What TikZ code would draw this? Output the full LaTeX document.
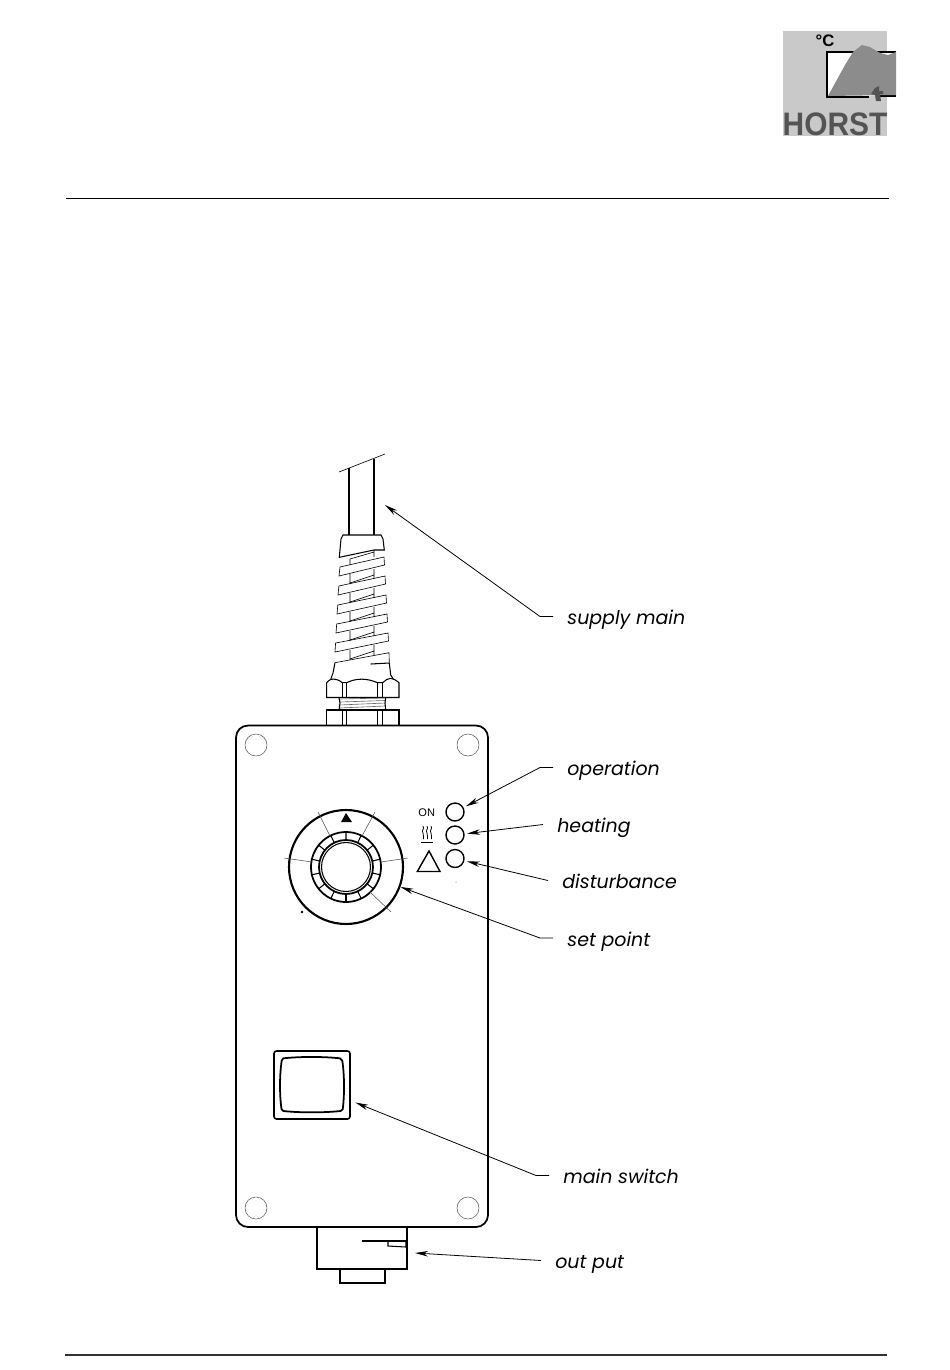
\documentclass[tikz,border=0pt]{standalone}
\usepackage{fontspec}
\setmainfont{Poppins}
\newfontfamily\logofont{Liberation Sans}
\usetikzlibrary{arrows.meta,calc}
\definecolor{logolight}{gray}{0.79}
\definecolor{logomid}{gray}{0.55}
\definecolor{logodark}{gray}{0.33}
\tikzset{
  partline/.style={black,line width=.6pt},
  thinline/.style={black,line width=.35pt},
  tickline/.style={black!70,line width=.3pt},
  heavyline/.style={black,line width=1pt},
  threadline/.style={black!60,line width=.35pt},
  calllabel/.style={anchor=west,inner xsep=.28cm,inner ysep=0pt,font=\fontsize{10.8}{12}\selectfont\itshape,text height=.33cm,text depth=0cm},
  leader/.style={black,line width=.45pt,-{Stealth[length=2.6mm,width=1.1mm]}},
  ledlamp/.style={circle,draw,line width=.8pt,inner sep=0pt,minimum size=.36cm},
  screwhole/.style={circle,draw=black!65,line width=.3pt,inner sep=0pt,minimum size=.44cm}
}
\begin{document}
\begin{tikzpicture}[x=.02cm,y=-.02cm]
\useasboundingbox (0,0) rectangle (950,1370);
% rules
\draw[black,line width=.5pt] (66,198) -- (889,198);
\draw[black!80,line width=.8pt] (65,1355) -- (887,1355);
% logo
\fill[logolight] (783,31) rectangle (887,136);
\fill[white] (827,52) rectangle (896,96);
\draw[black,line width=1.2pt] (896,52) -- (827,52) -- (827,97) -- (869,97);
\draw[black,line width=1.2pt] (878,96) -- (896,96);
\fill[logomid] (828,96) -- (845,65) -- (853,52) -- (862,45) -- (870,47) -- (880,53) -- (888,55) -- (896,52) -- (896,95) -- cycle;
\fill[logodark] (875,88) -- (879,86) -- (879,91) -- (883,91) -- (883,94) -- (880,94) -- (881,101) -- (876,101) -- (875,95) -- (871,94) -- cycle;
\node[font=\logofont\bfseries\fontsize{9.5}{9}\selectfont,inner sep=0pt] (logodeg) at (825,41) {°C};
\node[font=\logofont\bfseries\fontsize{18.5}{18}\selectfont,text=logodark,inner sep=0pt,xscale=.92] (logoname) at (835,124) {HORST};
% cable
\draw[thinline] (339,472) -- (385,454);
\draw[partline] (349,468) -- (349,535);
\draw[partline] (374,459) -- (374,535);
% gland
\draw[partline] (339.3,557.3) -- (341,539) -- (343,535) -- (381,535) -- (383,539) -- (384.3,550) -- (374,550) -- cycle;
\draw[thinline] (350,559) -- (350,565) (374,550) -- (374,557) (350,559) -- (374,552);
\foreach \i in {0,...,4}
  \draw[thinline] (340-\i*1.1,567+\i*19) -- (384+\i,557+\i*19) -- (384.5+\i,565+\i*19) -- (339-\i,576+\i*19) -- cycle
    (350,574+\i*19) -- (350,584+\i*19) (374,569+\i*19) -- (374,579+\i*19)
    (350,583+\i*19) -- (374,575+\i*19);
\draw[thinline] (335,662.7) -- (389,652.7) -- (389.3,662);
\draw[partline] (370.7,664) -- (389.3,663) -- (390.7,675) -- (393.3,679);
\draw[partline] (335,662.7) -- (333,673) -- (330.7,679.3);
% nuts
\draw[partline] (326.7,697.5) -- (326.7,682.7) .. controls (329,680) and (331,679) .. (333,679) .. controls (336,679) and (339,680) .. (342.3,682.7) -- (346.7,682.7) .. controls (356,678) and (367,678) .. (377.3,682.7) -- (382.7,682.7) .. controls (385,680) and (388,678.5) .. (390.7,678.3) .. controls (393,678.5) and (396,680) .. (399,682.7) -- (399,697.5) -- cycle;
\foreach \x in {342.3,346.7,377.3,382.3}
  \draw[partline] (\x,682.7) -- (\x,697.5) (\x,710) -- (\x,726);
\draw[partline] (326.7,726) -- (326.7,710) -- (399,710) -- (399,726);
\draw[threadline] (339,699) -- (385.7,698) (339.5,702) -- (385,700.5) (339,705) -- (385.7,703) (339.5,708) -- (385,706);
\draw[partline] (339,697.5) -- (340,703) -- (339,710) (385.7,697.5) -- (385,703) -- (385.7,710);
% housing
\draw[heavyline,rounded corners=.24cm] (236,725.5) rectangle (488,1227);
\node[screwhole] (holea) at (256,745) {};
\node[screwhole] (holeb) at (468,745) {};
\node[screwhole] (holec) at (256,1208) {};
\node[screwhole] (holed) at (468,1208) {};
% dial
\node[circle,draw,line width=1.2pt,inner sep=0pt,minimum size=2.28cm] (dial) at (346,867) {};
\draw[heavyline] (dial.center) circle (35);
\draw[heavyline] (dial.center) circle (27);
\draw[partline] (dial.center) circle (24.5);
\foreach \a in {0,...,13}
  \draw[partline] ($(dial.center)+(90+\a*25.71:27)$) -- ($(dial.center)+(90+\a*25.71:35)$);
\draw[tickline] (318,812) -- (330,836);
\draw[tickline] (375,812) -- (362,836);
\draw[tickline] (284,858) -- (312,862);
\draw[tickline] (408,858) -- (381,862);
\draw[tickline] (391,912) -- (370,892);
\fill[black] (346,813) -- (352,822) -- (341,822) -- cycle;
\fill[black] (302,912) circle (1.3);
% indicators
\node[ledlamp] (ledon) at (455,812) {};
\node[ledlamp] (ledheat) at (455,835) {};
\node[ledlamp] (ledfault) at (455,858.5) {};
\node[font=\logofont\fontsize{6.3}{6}\selectfont,inner sep=0pt] (ontext) at (426.7,812.3) {ON};
\foreach \x in {423,427,431}
  \draw[partline,line width=.45pt] (\x,826) .. controls (\x+2,829) and (\x-2,830) .. (\x,833) .. controls (\x+2,835) and (\x-1,837) .. (\x+.5,839);
\draw[partline,line width=.45pt] (421,842) -- (433,842);
\draw[line width=.8pt,line join=miter] (417.3,871.5) -- (440,871.5) -- (429,851) -- cycle;
\fill[black!70] (456,882) circle (.5);
% switch
\node[draw,line width=.9pt,rounded corners=.05cm,inner sep=0pt,minimum width=1.52cm,minimum height=1.36cm] (mainsw) at (312,1085) {};
\draw[heavyline] (283.3,1058.3) .. controls (300,1056.5) and (323,1056.5) .. (340,1058.3) -- (342.3,1060.7) .. controls (344.5,1075) and (344.5,1095) .. (342.8,1109) -- (340.7,1111) .. controls (323,1112.8) and (300,1112.8) .. (283.3,1111) -- (281.5,1109) .. controls (279.5,1095) and (279.5,1075) .. (281.7,1060.7) -- cycle;
% output connector
\draw[partline] (317,1228) -- (317,1269) -- (407,1269) -- (407,1228);
\draw[partline] (340,1269) -- (340,1283) -- (385,1283) -- (385,1269);
\draw[partline] (362,1241) -- (406,1241);
\draw[partline] (388,1241) -- (388,1246) -- (406,1247) -- (406,1241);
% labels
\coordinate (cabletip) at (385,505);
\coordinate (outtip) at (415,1253);
\node[calllabel] (lblsupply) at (553,616.5) {supply main};
\node[calllabel] (lbloper) at (553,767.5) {operation};
\node[calllabel] (lblheat) at (543,824.5) {heating};
\node[calllabel] (lbldist) at (548,880.5) {disturbance};
\node[calllabel] (lblset) at (553,938) {set point};
\node[calllabel] (lblmain) at (549,1175.5) {main switch};
\node[calllabel] (lblout) at (541,1260.5) {out put};
\draw[leader] (lblsupply.west) -- ++(-13,0) -- (cabletip);
\draw[leader,shorten >=.05cm] (lbloper.west) -- ++(-13,0) -- (ledon);
\draw[leader,shorten >=.05cm] (lblheat.west) -- (ledheat);
\draw[leader,shorten >=.05cm] (lbldist.west) -- (ledfault);
\draw[leader] (lblset.west) -- ++(-13,0) -- (dial);
\draw[leader,shorten >=.1cm] (lblmain.west) -- ++(-13,0) -- (mainsw);
\draw[leader] (lblout.west) -- (outtip);
\end{tikzpicture}
\end{document}
